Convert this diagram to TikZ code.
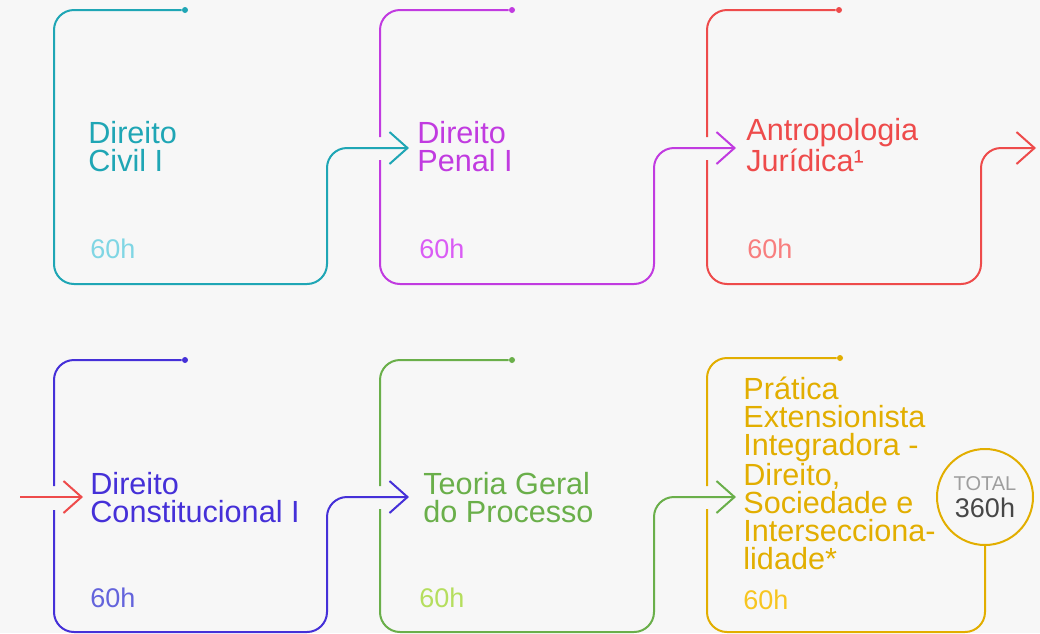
\documentclass[tikz,border=0pt]{standalone}
\usepackage{fontspec}
\setmainfont{Liberation Sans}
\usetikzlibrary{arrows.meta}

\definecolor{bgc}{HTML}{F7F7F7}
\definecolor{tealc}{HTML}{1FA6B5}  \definecolor{teall}{HTML}{80D6E4}
\definecolor{magc}{HTML}{C13BE0}   \definecolor{magl}{HTML}{DA5CF5}
\definecolor{redc}{HTML}{EE4B4B}   \definecolor{redl}{HTML}{F87E7E}
\definecolor{bluec}{HTML}{4530D8}  \definecolor{bluel}{HTML}{6464DC}
\definecolor{greenc}{HTML}{6AAF4A} \definecolor{greenl}{HTML}{B5DE5E}
\definecolor{yelc}{HTML}{E2AE00}   \definecolor{yell}{HTML}{F7C520}

\begin{document}
\begin{tikzpicture}[x=0.5pt,y=-0.5pt,
		track/.style={line width=1pt, rounded corners=10pt},
		link/.style={line width=1pt, rounded corners=10pt,
			-{Straight Barb[length=9pt,width=16pt]}},
		knob/.style={circle, fill, inner sep=0pt, minimum size=3pt},
		title/.style={anchor=base west, inner sep=0pt, align=left,
			font=\fontsize{15.3}{14}\selectfont},
		hours/.style={anchor=base west, inner sep=0pt,
			font=\fontsize{13.5}{14}\selectfont},
	]
	\fill[bgc] (0,0) rectangle (1040,633);
	\useasboundingbox (0,0) rectangle (1040,633);
	% rows: top, bottom, arrow level
	\def\ta{10}; \def\ba{284}; \def\ya{148};
	\def\tb{360}; \def\bb{632}; \def\yb{497};

	% first row
	\coordinate (in2) at (409,\ya);
	\coordinate (in3) at (736,\ya);
	\coordinate (out3) at (1036,\ya);
	\coordinate (o1) at (327,200); \coordinate (o2) at (654,200); \coordinate (o3) at (981,200);

	\node[knob, tealc] (d1) at (185,\ta) {};
	\draw[track, tealc] (d1) -- (54,\ta) -- (54,\ba) -- (327,\ba) -- (o1);
	\draw[link, tealc] (o1) |- (in2);
	\node[title, text=tealc] (t1) at (88,171) {Direito\\Civil I};
	\node[hours, text=teall] (h1) at (90,258) {60h};

	\node[knob, magc] (d2) at (512,\ta) {};
	\draw[track, magc] (d2) -- (380,\ta) -- (380,\ya-11);
	\draw[track, magc] (380,\ya+12) -- (380,\ba) -- (654,\ba) -- (o2);
	\draw[link, magc] (o2) |- (in3);
	\node[title, text=magc] (t2) at (417,171) {Direito\\Penal I};
	\node[hours, text=magl] (h2) at (419,258) {60h};

	\node[knob, redc] (d3) at (839,\ta) {};
	\draw[track, redc] (d3) -- (707,\ta) -- (707,\ya-11);
	\draw[track, redc] (707,\ya+12) -- (707,\ba) -- (981,\ba) -- (o3);
	\draw[link, redc] (o3) |- (out3);
	\node[title, text=redc] (t3) at (746,171) {Antropologia\\Jurídica¹};
	\node[hours, text=redl] (h3) at (747,258) {60h};

	% second row
	\coordinate (s4) at (20,\yb);
	\coordinate (in4) at (83,\yb);
	\coordinate (in5) at (409,\yb);
	\coordinate (in6) at (736,\yb);
	\coordinate (o4) at (327,560); \coordinate (o5) at (654,560);

	\draw[link, redc] (s4) -- (in4);

	\node[knob, bluec] (d4) at (185,\tb) {};
	\draw[track, bluec] (d4) -- (54,\tb) -- (54,\yb-11);
	\draw[track, bluec] (54,\yb+13) -- (54,\bb) -- (327,\bb) -- (o4);
	\draw[link, bluec] (o4) |- (in5);
	\node[title, text=bluec] (t4) at (90,522) {Direito\\Constitucional I};
	\node[hours, text=bluel] (h4) at (90,607) {60h};

	\node[knob, greenc] (d5) at (512,\tb) {};
	\draw[track, greenc] (d5) -- (380,\tb) -- (380,\yb-11);
	\draw[track, greenc] (380,\yb+12) -- (380,\bb) -- (654,\bb) -- (o5);
	\draw[link, greenc] (o5) |- (in6);
	\node[title, text=greenc] (t5) at (423,522) {Teoria Geral\\do Processo};
	\node[hours, text=greenl] (h5) at (419,607) {60h};

	\node[knob, yelc] (d6) at (840,358) {};
	\node[circle, draw=yelc, line width=1pt, fill=bgc, minimum size=48pt,
		inner sep=0pt] (total) at (985,\yb) {};
	\draw[track, yelc] (d6) -- (707,358) -- (707,\yb-11);
	\draw[track, yelc] (707,\yb+12) -- (707,\bb) -- (985,\bb) -- (total.south);
	\node[title, text=yelc, font=\fontsize{15.3}{13.85}\selectfont] (t6) at (743,569)
		{Prática\\Extensionista\\Integradora -\\Direito,\\Sociedade e\\Intersecciona-\\lidade*};
	\node[hours, text=yell] (h6) at (743,609) {60h};
	\node[inner sep=0pt, anchor=base, text=black!38,
		font=\fontsize{10}{12}\selectfont] (tl) at (985,490) {TOTAL};
	\node[inner sep=0pt, anchor=base, text=black!72,
		font=\fontsize{13.5}{14}\selectfont] (th) at (985,517) {360h};
\end{tikzpicture}
\end{document}
